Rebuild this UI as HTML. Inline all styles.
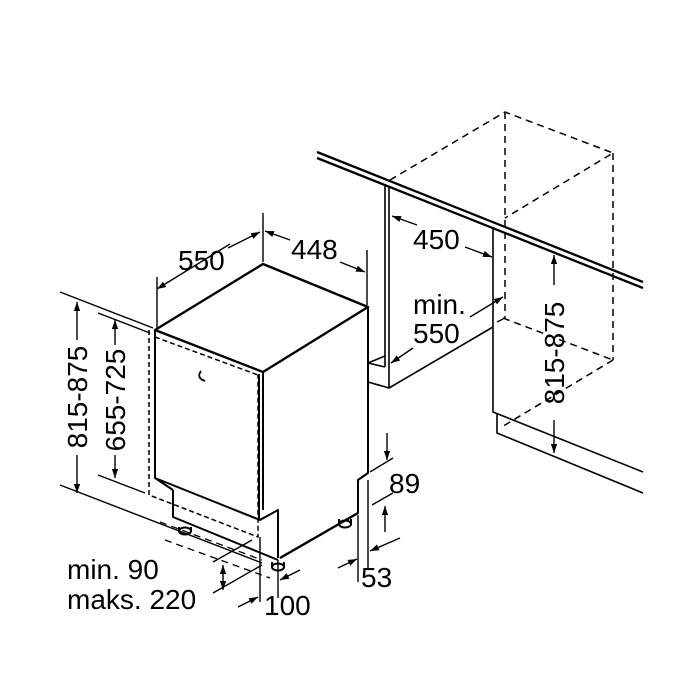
<!DOCTYPE html>
<html><head><style>html,body{margin:0;padding:0;background:#fff}svg{display:block}</style></head>
<body>
<svg width="700" height="700" viewBox="0 0 700 700" xmlns="http://www.w3.org/2000/svg">
<defs>
<marker id="a" viewBox="0 0 10 10" refX="10" refY="5" markerWidth="9" markerHeight="9" orient="auto-start-reverse" markerUnits="userSpaceOnUse"><path d="M0,1.5 L10,5 L0,8.5 z" fill="#000"/></marker>
</defs>
<g fill="none" stroke="#000" stroke-linejoin="round">
<path d="M317,152 L643,282 M317,158 L643,288" stroke-width="2.3"/>
<path d="M385,185 V367 M389,186 V388 M368,363 L385,367 M368,363 V382 L389,388 L493,327 M368,363 L385,356" stroke-width="1.6"/>
<path d="M493,227 V412 L643,472 M497,413 V433 L643,493" stroke-width="1.6"/>
<path d="M390,180 L505,112 L613,153 L505,218 M505,112 V318 M613,153 V360 M503,318 L613,360 M613,360 L500,428 M497,322 L505,318" stroke-width="1.5" stroke-dasharray="7,5"/>
<path d="M155,330 L263,264 L368,307 L263,372 Z" stroke-width="2.4"/>
<path d="M155,330 V478 L173,490 M263,372 V510 M259,374 V520 M368,307 V473 L358,480 V513 L280,558 M173,490 V517 L278,560 M155,478 L260,520 L278,510 V558 M260,520 L263,518" stroke-width="2"/>
<path d="M358,513 L280,558" stroke-width="2.4"/>
<path d="M149,330 V495 L258,537 V375 M155,337 L258,375" stroke-width="1.5" stroke-dasharray="5,3"/>
<path d="M160,522 L262,560 M165,540 L270,578" stroke-width="1.3" stroke-dasharray="7,5"/>
<ellipse cx="185" cy="531" rx="6" ry="3.5" stroke-width="2"/><path d="M179,527 V531 M191,527 V531" stroke-width="2"/>
<ellipse cx="278" cy="567" rx="6" ry="3.5" stroke-width="2"/><path d="M272,562 V567 M284,562 V567" stroke-width="2"/>
<ellipse cx="345" cy="524" rx="6" ry="3.5" stroke-width="2"/><path d="M339,519 V524 M351,519 V524" stroke-width="2"/>
<path d="M201,371 Q196,378 205,381" stroke-width="1.8"/>
<g stroke-width="1.4">
<path d="M60,292 L153,328 M60,485 L262,563 M98,313 L150,333 M98,475 L145,493"/>
<path d="M77,340 V302" marker-end="url(#a)"/><path d="M77,455 V493" marker-end="url(#a)"/>
<path d="M115,345 V320" marker-end="url(#a)"/><path d="M115,455 V478" marker-end="url(#a)"/>
<path d="M157,277 V330 M263,213 V262 M367,250 V305"/>
<path d="M230,244 L157,289" marker-end="url(#a)"/><path d="M228,248 L260,232" marker-end="url(#a)"/>
<path d="M290,240 L265,231" marker-end="url(#a)"/><path d="M340,262 L365,272" marker-end="url(#a)"/>
<path d="M370,472 L393,458 M372,505 L393,493"/>
<path d="M387,433 V460" marker-end="url(#a)"/><path d="M385,532 V506" marker-end="url(#a)"/>
<path d="M368,480 V570 M358,515 V582"/>
<path d="M400,538 L370,551" marker-end="url(#a)"/><path d="M338,568 L357,559" marker-end="url(#a)"/>
<path d="M260,537 V602 M278,560 V598"/>
<path d="M238,607 L258,597" marker-end="url(#a)"/><path d="M300,570 L280,580" marker-end="url(#a)"/>
<path d="M213,562 L252,540 M213,593 L262,565"/>
<path d="M223,565 V590" marker-start="url(#a)" marker-end="url(#a)"/>
<path d="M417,225 L392,216" marker-end="url(#a)"/><path d="M465,247 L492,257" marker-end="url(#a)"/>
<path d="M470,317 L503,297" marker-end="url(#a)"/><path d="M413,348 L391,363" marker-end="url(#a)"/>
<path d="M554,285 V255" marker-end="url(#a)"/><path d="M554,420 V453" marker-end="url(#a)"/>
</g>
</g>
<g font-family="Liberation Sans, sans-serif" font-size="28" fill="#000">
<text x="178" y="270">550</text>
<text x="291" y="259">448</text>
<text x="413" y="249">450</text>
<text x="413" y="314">min.</text>
<text x="413" y="343">550</text>
<text x="389" y="493">89</text>
<text x="361" y="587">53</text>
<text x="264" y="615">100</text>
<text x="67" y="579">min. 90</text>
<text x="67" y="609">maks. 220</text>
<text transform="translate(87,397) rotate(-90)" text-anchor="middle">815-875</text>
<text transform="translate(125,400) rotate(-90)" text-anchor="middle">655-725</text>
<text transform="translate(564,353) rotate(-90)" text-anchor="middle">815-875</text>
</g>
</svg>
</body></html>
